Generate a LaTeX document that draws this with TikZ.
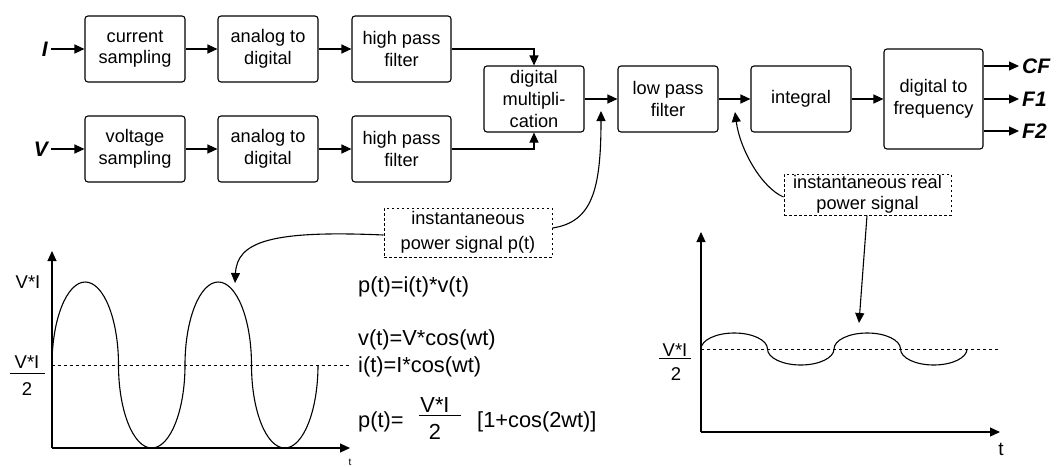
\documentclass[tikz,border=0pt]{standalone}
\usepackage{fontspec}
\setmainfont{Liberation Sans}
\usetikzlibrary{arrows.meta}
\begin{document}
\begin{tikzpicture}[x=1pt,y=-1pt,
  blk/.style={draw, rounded corners=3pt, line width=1.1pt, minimum width=100pt,
    minimum height=66pt, align=center, inner sep=0pt,
    font=\fontsize{18.2}{21.7}\selectfont},
  arr/.style={line width=1.1pt, -{Triangle[length=10pt,width=9pt]}},
  note/.style={draw, dash pattern=on 2.5pt off 2.5pt, line width=1pt, align=center,
    inner sep=0pt, font=\fontsize{18.2}{21}\selectfont},
  txt/.style={inner sep=0pt, font=\fontsize{21.8}{26}\selectfont},
  lbl/.style={inner sep=0pt, font=\fontsize{18.5}{22}\selectfont},
  io/.style={inner sep=3pt, font=\fontsize{21}{25}\selectfont\bfseries\itshape},
  wave/.style={line width=1.1pt},
  level/.style={line width=1pt, dash pattern=on 3pt off 3pt},
  bar/.style={line width=1pt}]
\useasboundingbox (0,0) rectangle (1057,466);

% signal chain
\node[blk] (cs)  at (135,49)   {current\\sampling};
\node[blk] (ad1) at (268,49)   {analog to\\digital};
\node[blk, minimum width=99pt] (hp1) at (401.5,49) {high pass\\filter};
\node[blk] (vs)  at (135,149)  {voltage\\sampling};
\node[blk] (ad2) at (268,149)  {analog to\\digital};
\node[blk, minimum width=99pt] (hp2) at (401.5,149) {high pass\\filter};
\node[blk] (dm)  at (534,99)   {digital\\multipli-\\cation};
\node[blk] (lpf) at (668,99)   {low pass\\filter};
\node[blk] (int) at (801,99)   {integral};
\node[blk, minimum width=99pt, minimum height=100pt] (dtf) at (933.5,99) {digital to\\frequency};

% inputs and outputs
\node[io, anchor=east] (inI) at (51,49)  {I};
\node[io, anchor=east] (inV) at (51,149) {V};
\node[io, anchor=west] (oCF) at (1019,66)  {CF};
\node[io, anchor=west] (oF1) at (1019,99)  {F1};
\node[io, anchor=west] (oF2) at (1019,131) {F2};

\draw[arr] (inI.east) -- (cs.west);
\draw[arr] (inV.east) -- (vs.west);
\draw[arr] (cs) -- (ad1);
\draw[arr] (ad1) -- (hp1);
\draw[arr] (vs) -- (ad2);
\draw[arr] (ad2) -- (hp2);
\draw[arr] (hp1.east) -| (dm.north);
\draw[arr] (hp2.east) -| (dm.south);
\draw[arr] (dm) -- (lpf);
\draw[arr] (lpf) -- (int);
\draw[arr] (int) -- (dtf);
\draw[arr] (dtf.east |- oCF.west) -- (oCF.west);
\draw[arr] (dtf.east |- oF1.west) -- (oF1.west);
\draw[arr] (dtf.east |- oF2.west) -- (oF2.west);

% annotations
\node[note, minimum width=168pt, minimum height=49pt, font=\fontsize{18.2}{25}\selectfont]
  (pnote) at (468,232.5) {instantaneous\\power signal p(t)};
\node[note, minimum width=167pt, minimum height=41pt] (rnote) at (867.5,194.5)
  {instantaneous real\\power signal};
\coordinate (tipA) at (601,111);
\coordinate (tipB) at (235,283);
\coordinate (tipC) at (735,112);
\coordinate (tipD) at (859,323);
\draw[arr] (pnote.east |- 0,228) .. controls (592,222) and (601,190) .. (tipA);
\draw[arr] (pnote.west |- 0,235) .. controls (270,230) and (237,242) .. (tipB);
\draw[arr] (rnote.west |- 0,197) .. controls (762,188) and (740,150) .. (tipC);
\draw[arr] (rnote.south -| 867,0) -- (tipD);

% instantaneous power p(t)
\coordinate (o1) at (52,448);
\draw[arr] (o1) -- (52,251);
\draw[arr] (o1) -- (350,448);
\draw[level] (52,365) -- (350,365);
\draw[wave] (52,365)
  arc[start angle=180, end angle=0,   x radius=33.25pt, y radius=83pt]
  arc[start angle=180, end angle=360, x radius=33.25pt, y radius=83pt]
  arc[start angle=180, end angle=0,   x radius=33.25pt, y radius=83pt]
  arc[start angle=180, end angle=360, x radius=33.25pt, y radius=83pt];
\node[lbl] (pk1) at (28,282) {V*I};
\node[lbl] (hn1) at (27,362) {V*I};
\draw[bar] (10,373) -- (45,373);
\node[lbl] (hd1) at (27,389) {2};
\node[inner sep=0pt, font=\fontsize{10}{12}\selectfont] (t1) at (350,462) {t};

% formulas
\node[txt, anchor=west] (f1) at (358,287) {p(t)=i(t)*v(t)};
\node[txt, anchor=west] (f2) at (358,340) {v(t)=V*cos(wt)};
\node[txt, anchor=west] (f3) at (358,367) {i(t)=I*cos(wt)};
\node[txt, anchor=west] (f4) at (358,422) {p(t)=};
\node[txt] (f5n) at (435,405) {V*I};
\draw[bar] (419,415) -- (461,415);
\node[txt] (f5d) at (435,432) {2};
\node[txt, anchor=west] (f6) at (477,422) {[1+cos(2wt)]};

% instantaneous real power
\coordinate (o2) at (701,432);
\draw[arr] (o2) -- (701,232);
\draw[arr] (o2) -- (1000,432);
\draw[level] (701,349) -- (998,349);
\draw[wave] (701,349)
  arc[start angle=180, end angle=0,   x radius=33.25pt, y radius=16pt]
  arc[start angle=180, end angle=360, x radius=33.25pt, y radius=16pt]
  arc[start angle=180, end angle=0,   x radius=33.25pt, y radius=16pt]
  arc[start angle=180, end angle=360, x radius=33.25pt, y radius=16pt];
\node[lbl] (hn2) at (675,350) {V*I};
\draw[bar] (659,358) -- (691,358);
\node[lbl] (hd2) at (676,374) {2};
\node[inner sep=0pt, font=\fontsize{19}{22}\selectfont] (t2) at (1001,449) {t};
\end{tikzpicture}
\end{document}
